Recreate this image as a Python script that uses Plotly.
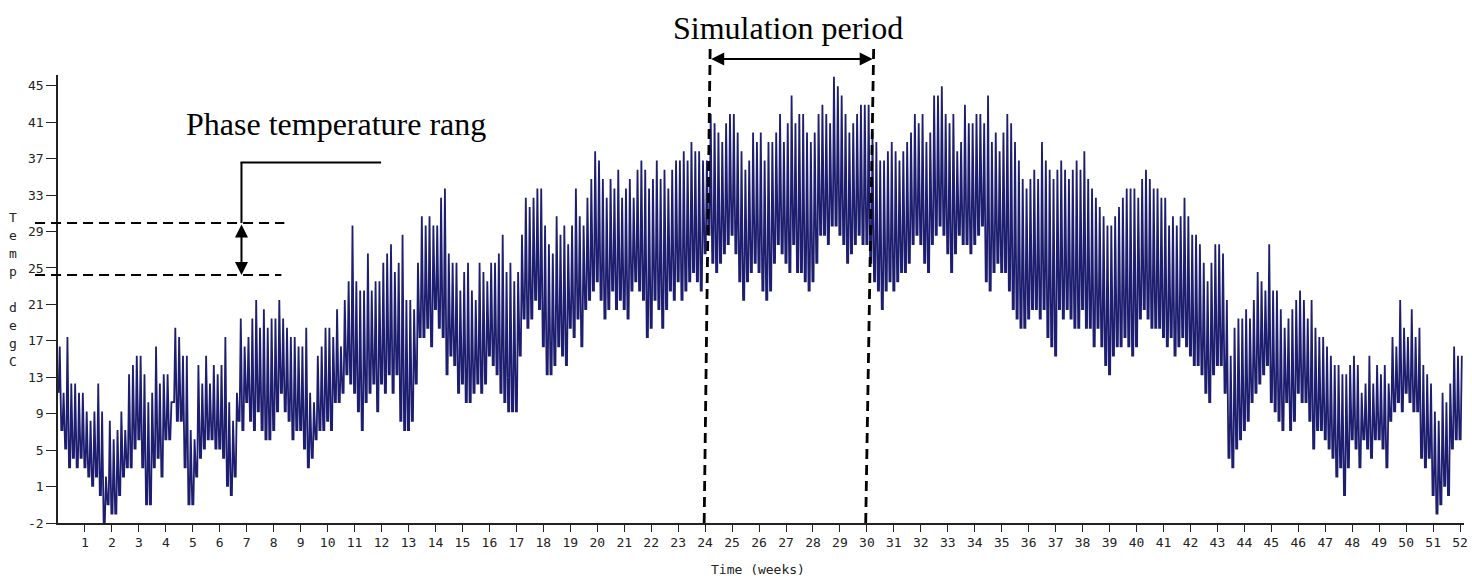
import plotly.graph_objects as go

# ---- data: estimated daily max / min temperature (deg C), one value per day, 7 per week ----
daily_high = [
    17, 12, 18, 13, 13, 12, 12,   # week 0
    10, 9, 10, 13, 10, 3, 9,      # week 1
    7, 8, 10, 8, 14, 15, 16,      # week 2
    16, 14, 11, 12, 17, 13, 14,   # week 3
    14, 11, 19, 18, 16, 16, 8,    # week 4
    7, 15, 13, 16, 13, 15, 14,    # week 5
    15, 18, 11, 9, 12, 20, 17,    # week 6
    18, 20, 22, 19, 21, 19, 20,   # week 7
    20, 22, 20, 19, 18, 18, 17,   # week 8
    17, 19, 12, 11, 16, 17, 19,   # week 9
    19, 18, 21, 17, 22, 24, 30,   # week 10
    24, 23, 23, 27, 23, 24, 24,   # week 11
    26, 27, 28, 25, 26, 29, 22,   # week 12
    22, 21, 26, 31, 30, 31, 30,   # week 13
    30, 33, 34, 27, 26, 26, 23,   # week 14
    25, 26, 23, 22, 26, 25, 24,   # week 15
    26, 26, 27, 29, 25, 26, 24,   # week 16
    25, 29, 33, 32, 33, 34, 34,   # week 17
    30, 28, 27, 31, 29, 30, 28,   # week 18
    30, 34, 31, 30, 33, 35, 38,   # week 19
    37, 35, 33, 35, 34, 36, 33,   # week 20
    34, 35, 33, 36, 37, 36, 34,   # week 21
    35, 37, 35, 36, 34, 36, 37,   # week 22
    37, 38, 37, 39, 38, 38, 37,   # week 23
    37, 42, 41, 40, 39, 41, 42,   # week 24
    42, 40, 38, 36, 37, 40, 39,   # week 25
    40, 37, 39, 39, 40, 42, 39,   # week 26
    41, 44, 41, 42, 42, 40, 39,   # week 27
    40, 42, 43, 42, 41, 46, 45,   # week 28
    44, 42, 40, 41, 42, 43, 43,   # week 29
    43, 40, 39, 37, 37, 38, 39,   # week 30
    38, 37, 38, 39, 40, 42, 41,   # week 31
    42, 39, 40, 44, 44, 45, 42,   # week 32
    41, 42, 38, 39, 43, 41, 41,   # week 33
    42, 42, 41, 44, 39, 40, 38,   # week 34
    40, 42, 41, 39, 37, 35, 34,   # week 35
    35, 36, 35, 39, 37, 36, 35,   # week 36
    36, 37, 36, 35, 36, 37, 36,   # week 37
    38, 35, 34, 33, 32, 31, 30,   # week 38
    30, 31, 32, 33, 34, 34, 34,   # week 39
    33, 35, 36, 35, 34, 34, 33,   # week 40
    33, 30, 31, 30, 31, 33, 31,   # week 41
    29, 29, 28, 26, 24, 26, 28,   # week 42
    28, 27, 22, 16, 19, 20, 20,   # week 43
    21, 20, 22, 25, 24, 23, 28,   # week 44
    23, 23, 21, 19, 20, 21, 22,   # week 45
    23, 22, 20, 22, 19, 18, 18,   # week 46
    17, 16, 15, 15, 14, 14, 15,   # week 47
    16, 15, 12, 13, 16, 13, 15,   # week 48
    14, 15, 13, 18, 17, 22, 19,   # week 49
    18, 21, 18, 19, 15, 14, 13,   # week 50
    10, 9, 12, 11, 13, 17, 16,    # week 51
    16,                           # week 52
]
daily_low = [
    12, 8, 6, 4, 5, 4, 5,
    4, 3, 2, 3, 1, -2, 0,
    -1, -1, 1, 3, 4, 4, 6,
    7, 4, 0, 0, 4, 5, 3,
    7, 7, 11, 9, 9, 4, 0,
    0, 3, 5, 6, 7, 7, 6,
    6, 5, 2, 1, 3, 9, 8,
    11, 9, 8, 10, 8, 7, 7,
    8, 10, 12, 10, 9, 7, 8,
    8, 6, 4, 5, 7, 8, 8,
    9, 8, 11, 11, 12, 14, 13,
    12, 10, 8, 11, 12, 13, 10,
    13, 12, 14, 12, 14, 9, 8,
    8, 9, 13, 18, 18, 19, 17,
    21, 19, 18, 14, 16, 15, 12,
    13, 11, 11, 12, 13, 12, 13,
    16, 15, 14, 12, 11, 10, 10,
    10, 16, 20, 19, 20, 22, 21,
    17, 14, 14, 15, 17, 16, 15,
    19, 18, 20, 17, 21, 22, 23,
    24, 22, 20, 21, 23, 21, 22,
    21, 20, 23, 24, 23, 22, 18,
    19, 22, 21, 19, 21, 23, 22,
    24, 22, 23, 24, 25, 24, 23,
    27, 29, 26, 25, 26, 27, 28,
    29, 27, 24, 22, 24, 25, 26,
    25, 23, 22, 23, 26, 28, 27,
    26, 25, 28, 25, 25, 24, 23,
    24, 26, 29, 29, 28, 30, 30,
    29, 28, 26, 27, 28, 29, 28,
    28, 26, 24, 23, 21, 23, 24,
    23, 24, 25, 25, 26, 28, 29,
    28, 26, 25, 28, 29, 30, 29,
    27, 25, 27, 29, 28, 28, 27,
    28, 29, 30, 24, 23, 25, 26,
    25, 25, 23, 21, 20, 19, 19,
    20, 21, 21, 20, 21, 18, 17,
    16, 21, 20, 21, 20, 19, 19,
    21, 19, 19, 17, 19, 17, 15,
    14, 16, 17, 17, 18, 17, 16,
    17, 20, 21, 20, 19, 19, 19,
    18, 17, 18, 16, 17, 18, 17,
    16, 15, 15, 14, 12, 11, 14,
    15, 15, 12, 5, 4, 6, 7,
    8, 9, 11, 12, 13, 14, 15,
    11, 10, 9, 8, 11, 8, 9,
    12, 11, 11, 9, 6, 8, 8,
    7, 6, 5, 3, 4, 1, 4,
    7, 6, 4, 7, 6, 5, 7,
    7, 6, 4, 9, 10, 11, 10,
    12, 11, 10, 10, 5, 4, 5,
    1, -1, 0, 2, 1, 6, 7,
    7,
]

x_tick_vals = list(range(1, 53))
x_tick_text = [str(v) for v in x_tick_vals]
y_tick_vals = [-2, 1.92, 5.84, 9.76, 13.68, 17.6, 21.52, 25.44, 29.36, 33.28, 37.2, 41.12, 45.04]
y_tick_text = ["-2", "1", "5", "9", "13", "17", "21", "25", "29", "33", "37", "41", "45"]
y_label_chars = ["T", "e", "m", "p", "", "d", "e", "g", "C"]

# ---- daily cycle: morning minimum, quick rise to the afternoon maximum, quick fall ----
t, temp = [], []
n_days = len(daily_high)
for d in range(n_days):
    t.append((d + 0.15) / 7.0)
    temp.append(daily_low[d])
    t.append((d + 0.45) / 7.0)
    temp.append(daily_high[d])
    if d + 1 < n_days:
        t.append((d + 0.85) / 7.0)
        temp.append(daily_low[d + 1])

W, H = 1472, 578
ML, MR, MT, MB = 58, 4, 75, 55
PW, PH = W - ML - MR, H - MT - MB


def px(xp):
    return (xp - ML) / PW


def py(yp):
    return (H - MB - yp) / PH


fig = go.Figure()
fig.add_trace(go.Scatter(x=t, y=temp, mode="lines",
                         line=dict(color="#1e1e70", width=1.8),
                         hoverinfo="skip", showlegend=False))

tick_font = dict(family="DejaVu Sans Mono", size=13, color="#222222")
fig.update_layout(
    width=W, height=H,
    margin=dict(l=ML, r=MR, t=MT, b=MB, pad=0),
    paper_bgcolor="white", plot_bgcolor="white",
    showlegend=False,
    xaxis=dict(range=[0, PW / 27.04], tickvals=x_tick_vals, ticktext=x_tick_text,
               showgrid=False, zeroline=False, showline=True, linecolor="#222222",
               linewidth=1.5, ticks="outside", ticklen=7, tickwidth=1.2,
               tickcolor="#222222", tickfont=tick_font),
    yaxis=dict(range=[-2, 46.2], tickvals=y_tick_vals, ticktext=y_tick_text,
               showgrid=False, zeroline=False, showline=True, linecolor="#222222",
               linewidth=1.5, ticks="outside", ticklen=10, tickwidth=1.2,
               tickcolor="#222222", tickfont=tick_font),
)

dash_pat = "10px,6px"
shapes = [
    dict(type="line", xref="paper", yref="paper", x0=px(706), y0=0, x1=px(712), y1=py(48),
         line=dict(color="black", width=2.8, dash=dash_pat)),
    dict(type="line", xref="paper", yref="paper", x0=px(868), y0=0, x1=px(876), y1=py(48),
         line=dict(color="black", width=2.8, dash=dash_pat)),
    dict(type="line", xref="paper", yref="paper", x0=px(35), y0=py(223), x1=px(285), y1=py(223),
         line=dict(color="black", width=2, dash=dash_pat)),
    dict(type="line", xref="paper", yref="paper", x0=px(35), y0=py(275), x1=px(282), y1=py(275),
         line=dict(color="black", width=2, dash=dash_pat)),
    dict(type="line", xref="paper", yref="paper", x0=px(242), y0=py(223), x1=px(242), y1=py(162.5),
         line=dict(color="black", width=2)),
    dict(type="line", xref="paper", yref="paper", x0=px(241), y0=py(162.5), x1=px(382), y1=py(162.5),
         line=dict(color="black", width=2)),
]
fig.update_layout(shapes=shapes)

serif = dict(family="Liberation Serif", size=32, color="black")
ann = [
    dict(text="Simulation period", xref="paper", yref="paper", x=px(790), y=py(28),
         showarrow=False, font=serif, xanchor="center", yanchor="middle"),
    dict(text="Phase temperature rang", xref="paper", yref="paper", x=px(337), y=py(124),
         showarrow=False, font=serif, xanchor="center", yanchor="middle"),
    dict(text="Time (weeks)", xref="paper", yref="paper", x=px(760), y=py(569),
         showarrow=False, font=tick_font, xanchor="center", yanchor="middle"),
    dict(text="", xref="paper", yref="paper", x=px(875), y=py(59), axref="pixel", ayref="pixel",
         ax=-(875 - 712), ay=0, showarrow=True, arrowhead=2, startarrowhead=2,
         arrowside="end+start", arrowsize=1.3, startarrowsize=1.3, arrowwidth=2,
         arrowcolor="black", standoff=0, startstandoff=0),
    dict(text="", xref="paper", yref="paper", x=px(242), y=py(275), axref="pixel", ayref="pixel",
         ax=0, ay=-(275 - 223), showarrow=True, arrowhead=2, startarrowhead=2,
         arrowside="end+start", arrowsize=1.3, startarrowsize=1.3, arrowwidth=2,
         arrowcolor="black", standoff=0, startstandoff=0),
]
for i, ch in enumerate(y_label_chars):
    if ch:
        ann.append(dict(text=ch, xref="paper", yref="paper", x=px(13), y=py(217 + i * 18.1),
                        showarrow=False, font=dict(family="DejaVu Sans Mono", size=13, color="#222222"),
                        xanchor="center", yanchor="middle"))
fig.update_layout(annotations=ann)

fig.write_html("out.html")
